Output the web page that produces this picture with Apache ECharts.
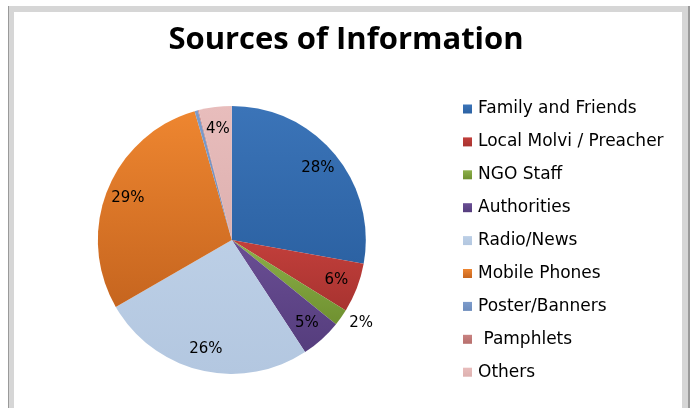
<!DOCTYPE html>
<html>
<head>
<meta charset="utf-8">
<script src="https://cdn.jsdelivr.net/npm/echarts@6/dist/echarts.min.js"></script>
<style>
  html, body { margin: 0; padding: 0; background: #fff; }
  #chart { width: 692px; height: 408px; }
</style>
</head>
<body>
<div id="chart"></div>
<script>
// data, clockwise from 12 o'clock
const categories = [
  "Family and Friends",
  "Local Molvi / Preacher",
  "NGO Staff",
  "Authorities",
  "Radio/News",
  "Mobile Phones",
  "Poster/Banners",
  " Pamphlets",
  "Others"
];
const shares = [28, 6, 2, 5, 26, 29, 0.4, 0.1, 4];
const shownLabels = ["28%", "6%", "2%", "5%", "26%", "29%", "", "", "4%"];

// slice colours, top / bottom of a light vertical gradient
const topColors = ["#3b74b8", "#c23f3b", "#8db04a", "#6a4e94", "#bccfe6", "#ee8630", "#7d9ccb", "#c98381", "#e8bdbc"];
const botColors = ["#2c62a3", "#a83330", "#6f9130", "#553d7d", "#b3c7e0", "#c6651f", "#6d8cbc", "#b76f6d", "#ddb0af"];

const center = ["33.5%", "58.8%"];
const R = 134;

let myChart = echarts.init(document.getElementById("chart"));

let pieData = categories.map((name, i) => ({
  name: name,
  value: shares[i],
  itemStyle: {
    color: new echarts.graphic.LinearGradient(0, 0, 0, 1, [
      { offset: 0, color: topColors[i] },
      { offset: 1, color: botColors[i] },
    ]),
  },
}));

// a transparent ring that only carries the labels, so they sit near the rim
let labelData = categories.map((name, i) => {
  let item = {
    name: name,
    value: shares[i],
    itemStyle: { color: "rgba(0,0,0,0)" },
    label: { formatter: shownLabels[i] },
  };
  if (name === "NGO Staff") {
    item.label.position = "outside";
    item.label.distanceToLabelLine = 0;
    item.labelLine = { show: false, length: 10, length2: 0 };
  }
  return item;
});

let option = {
  animation: false,
  textStyle: { fontFamily: "DejaVu Sans" },
  graphic: [
    // frame round the chart area
    { type: "rect", shape: { x: 9, y: 6, width: 679, height: 410 }, style: { fill: "#d6d6d6" }, silent: true, z: -10 },
    { type: "rect", shape: { x: 8, y: 6, width: 1, height: 410 }, style: { fill: "#9a9a9a" }, silent: true, z: -9 },
    { type: "rect", shape: { x: 688, y: 6, width: 2, height: 410 }, style: { fill: "#9a9a9a" }, silent: true, z: -9 },
    { type: "rect", shape: { x: 14, y: 12, width: 668, height: 410 }, style: { fill: "#ffffff" }, silent: true, z: -8 },
  ],
  title: {
    text: "Sources of Information",
    left: "center",
    top: 20,
    textStyle: {
      fontFamily: "Open Sans",
      fontWeight: "bold",
      fontSize: 31,
      color: "#000",
    },
  },
  legend: {
    orient: "vertical",
    left: 458,
    top: 95,
    itemWidth: 9,
    itemHeight: 9,
    itemGap: 14.9,
    icon: "rect",
    selectedMode: false,
    data: categories,
    textStyle: {
      fontFamily: "DejaVu Sans",
      fontSize: 17,
      lineHeight: 18,
      color: "#000",
      padding: [0, 0, 0, 1],
    },
  },
  series: [
    {
      name: "Sources",
      type: "pie",
      center: center,
      radius: [0, R],
      startAngle: 90,
      clockwise: true,
      label: { show: false },
      labelLine: { show: false },
      itemStyle: { borderWidth: 0 },
      emphasis: { disabled: true },
      data: pieData,
    },
    {
      name: "labels",
      type: "pie",
      center: center,
      radius: [84, R],
      startAngle: 90,
      clockwise: true,
      silent: true,
      legendHoverLink: false,
      label: {
        show: true,
        position: "inside",
        fontFamily: "DejaVu Sans",
        fontSize: 15,
        color: "#000",
      },
      labelLine: { show: false },
      emphasis: { disabled: true },
      data: labelData,
    },
  ],
};
myChart.setOption(option);
</script>
</body>
</html>
